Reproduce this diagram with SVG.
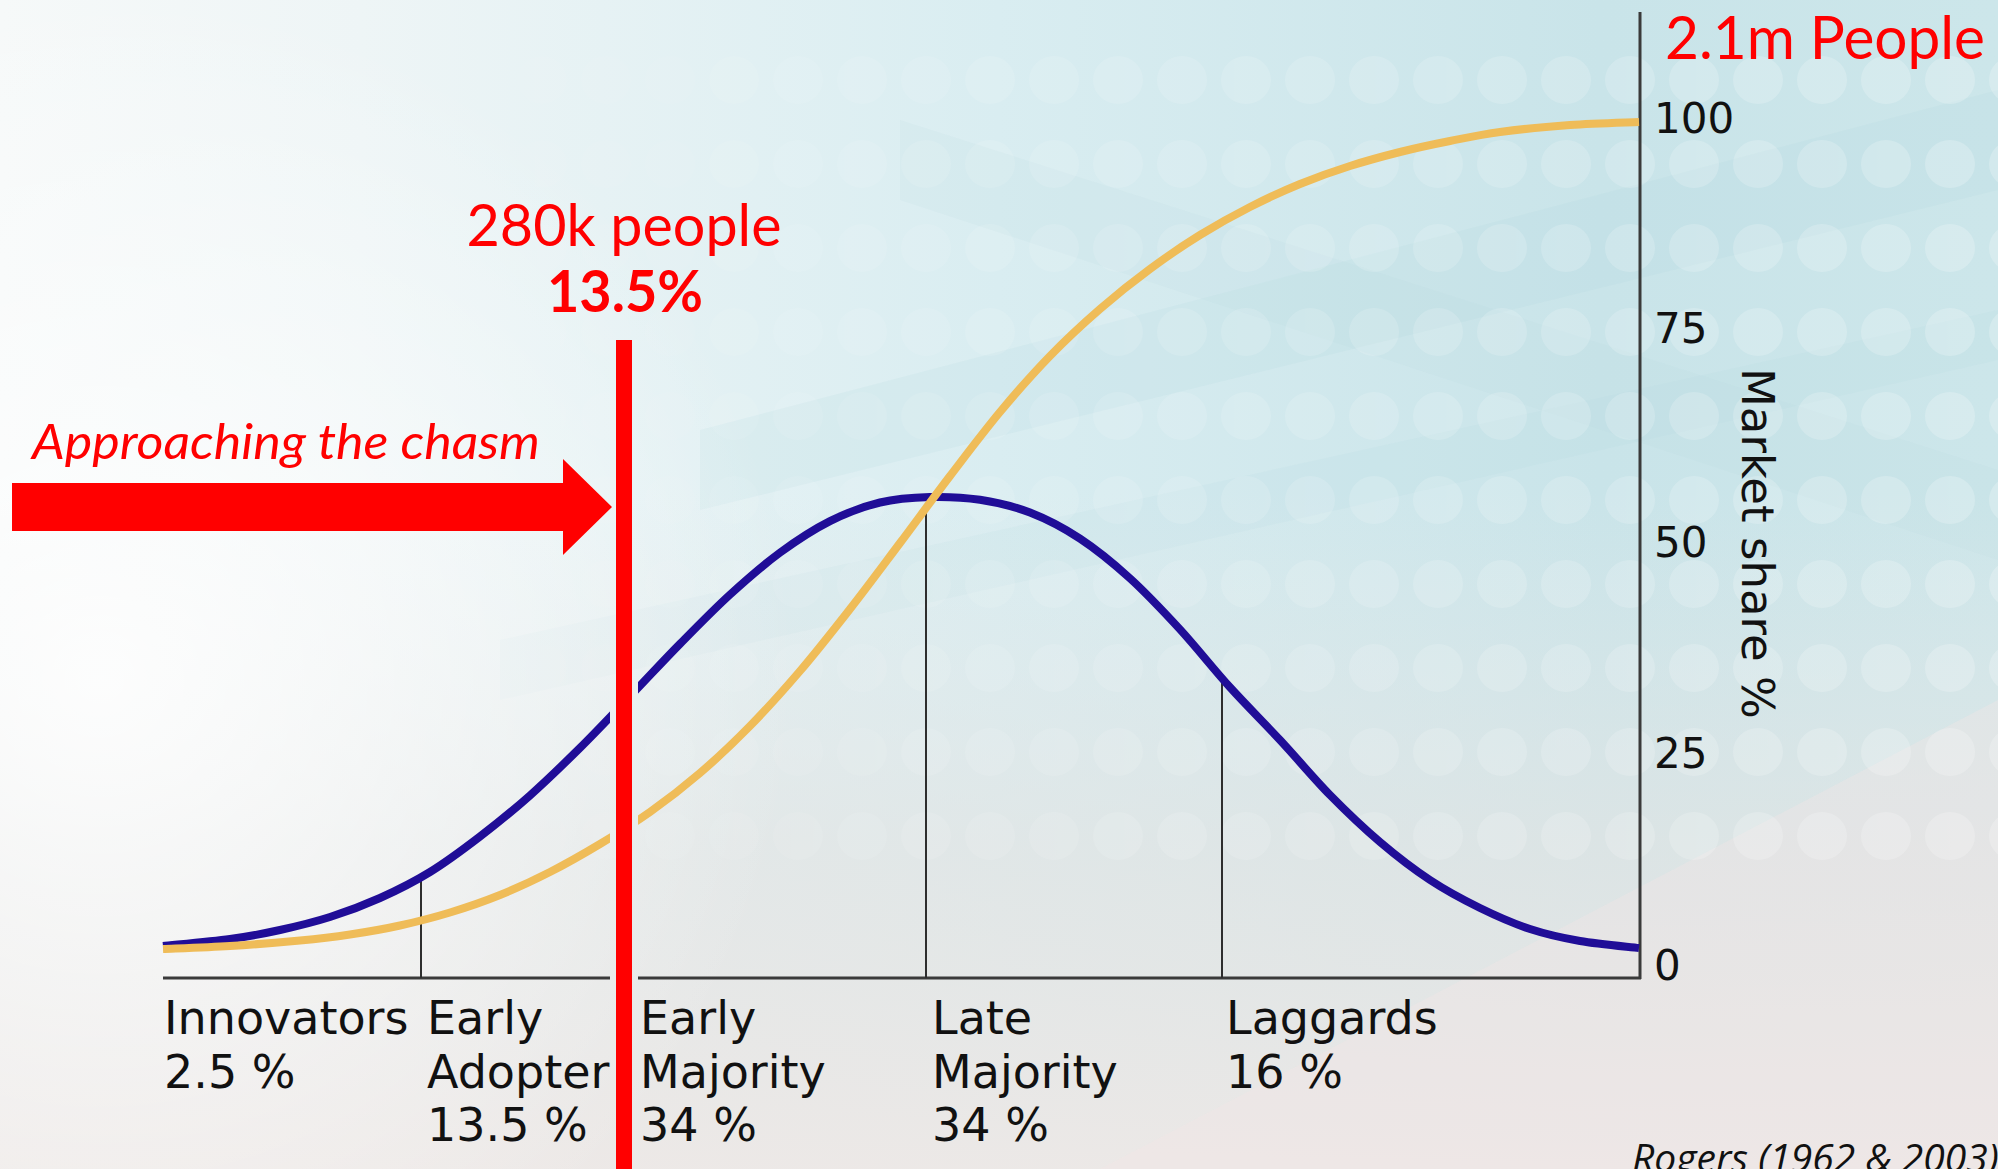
<svg xmlns="http://www.w3.org/2000/svg" width="1998" height="1169" viewBox="0 0 1998 1169">
  <defs>
    <linearGradient id="bgH" x1="0" y1="0" x2="1" y2="0">
      <stop offset="0" stop-color="#f6f9f9"/>
      <stop offset="0.18" stop-color="#eef5f6"/>
      <stop offset="0.5" stop-color="#d9edf1"/>
      <stop offset="0.8" stop-color="#c9e4e9"/>
      <stop offset="1" stop-color="#cce6ea"/>
    </linearGradient>
    <linearGradient id="bgV" x1="0" y1="0" x2="0" y2="1">
      <stop offset="0" stop-color="#ffffff" stop-opacity="0"/>
      <stop offset="0.42" stop-color="#e6e8e8" stop-opacity="0"/>
      <stop offset="0.72" stop-color="#e3e4e3" stop-opacity="0.7"/>
      <stop offset="1" stop-color="#ede8e6" stop-opacity="0.95"/>
    </linearGradient>
    <radialGradient id="glow" cx="100" cy="680" r="700" gradientUnits="userSpaceOnUse">
      <stop offset="0" stop-color="#ffffff" stop-opacity="0.85"/>
      <stop offset="0.6" stop-color="#ffffff" stop-opacity="0.35"/>
      <stop offset="1" stop-color="#ffffff" stop-opacity="0"/>
    </radialGradient>
    <linearGradient id="dotFade" x1="0" y1="0" x2="1" y2="0">
      <stop offset="0" stop-color="#fff" stop-opacity="0"/>
      <stop offset="0.2" stop-color="#fff" stop-opacity="0.12"/>
      <stop offset="0.5" stop-color="#fff" stop-opacity="0.5"/>
      <stop offset="1" stop-color="#fff" stop-opacity="1"/>
    </linearGradient>
    <pattern id="dots" width="64" height="84" patternUnits="userSpaceOnUse" patternTransform="translate(-2,38)">
      <ellipse cx="32" cy="42" rx="25" ry="24" fill="#ffffff" fill-opacity="0.22"/>
    </pattern>
    <mask id="dotMask">
      <rect x="0" y="0" width="1998" height="1169" fill="url(#dotFade)"/>
    </mask>
    <mask id="barGap">
      <rect x="0" y="0" width="1998" height="1169" fill="#fff"/>
      <rect x="610" y="340" width="28" height="829" fill="#000"/>
    </mask>
    <style>
      .axis { stroke: #3a3a3a; stroke-width: 3; fill: none; }
      .tick { stroke: #2e2e2e; stroke-width: 2; fill: none; }
      .curve { fill: none; stroke-width: 8; stroke-linecap: butt; stroke-linejoin: round; }
      .lbl { font-family: "DejaVu Sans", sans-serif; font-size: 46px; fill: #111111; }
      .ylbl { font-family: "DejaVu Sans", sans-serif; font-size: 42px; fill: #111111; }
      .red { font-family: Lato, "Open Sans", sans-serif; fill: #ff0000; }
    </style>
  </defs>

  <g id="background">
    <rect x="0" y="0" width="1998" height="1169" fill="url(#bgH)"/>
    <polygon points="700,430 1998,90 1998,190 700,510" fill="#a9d3da" fill-opacity="0.14"/>
    <polygon points="500,640 1998,310 1998,360 500,700" fill="#a9d3da" fill-opacity="0.12"/>
    <polygon points="900,120 1998,470 1998,560 900,200" fill="#b5d9df" fill-opacity="0.12"/>
    <rect x="0" y="0" width="1998" height="1169" fill="url(#bgV)"/>
    <rect x="0" y="0" width="1998" height="1169" fill="url(#glow)"/>
    <polygon points="1100,1169 1998,700 1998,1169" fill="#f3e6e4" fill-opacity="0.35"/>
    <rect x="0" y="40" width="1998" height="820" fill="url(#dots)" mask="url(#dotMask)"/>
  </g>

  <g id="chart" mask="url(#barGap)">
    <g id="axes">
      <line class="axis" x1="163" y1="978" x2="1641" y2="978"/>
      <line class="axis" x1="1640" y1="12" x2="1640" y2="979"/>
      <line class="tick" x1="421" y1="879" x2="421" y2="978"/>
      <line class="tick" x1="926" y1="505" x2="926" y2="978"/>
      <line class="tick" x1="1222" y1="678" x2="1222" y2="978"/>
    </g>
    <path id="bell-curve" class="curve" stroke="#200d97" d="M163,946 C174.2,944.8 210.5,941.7 230,939 C249.5,936.3 263.3,933.7 280,930 C296.7,926.3 313.3,922.3 330,917 C346.7,911.7 363.3,905.5 380,898 C396.7,890.5 413.3,882.3 430,872 C446.7,861.8 463.3,849.3 480,836.5 C496.7,823.7 513.3,810.2 530,795.4 C546.7,780.6 563.3,764.4 580,747.9 C596.7,731.4 613.3,713.6 630,696.3 C646.7,679 663.3,660.8 680,643.9 C696.7,626.9 713.3,609.8 730,594.6 C746.7,579.4 763.3,564.9 780,552.6 C796.7,540.4 813.3,529.5 830,521.1 C846.7,512.8 863.3,506.5 880,502.5 C896.7,498.5 913.3,497.5 930,497 C946.7,496.6 963.3,497.2 980,499.8 C996.7,502.4 1013.3,506.1 1030,512.6 C1046.7,519.1 1063.3,527.7 1080,538.7 C1096.7,549.7 1113.3,563.3 1130,578.4 C1146.7,593.5 1163.3,611.3 1180,629.4 C1196.7,647.6 1213.3,668.9 1230,687.3 C1246.7,705.7 1263.3,722.1 1280,740 C1296.7,757.9 1313.3,778 1330,795 C1346.7,812 1363.3,827.8 1380,842 C1396.7,856.2 1413.3,869 1430,880 C1446.7,891 1463.3,899.8 1480,908 C1496.7,916.2 1513.3,923.5 1530,929 C1546.7,934.5 1561.8,937.8 1580,941 C1598.2,944.2 1629.2,946.8 1639,948"/>
    <path id="s-curve" class="curve" stroke="#efbc58" d="M163,949 C174.2,948.5 207.2,947.4 230,946 C252.8,944.6 280,942.4 300,940.5 C320,938.6 333.3,937 350,934.5 C366.7,932 383.3,929.2 400,925.5 C416.7,921.8 433.3,917.6 450,912.5 C466.7,907.4 483.3,901.75 500,895 C516.7,888.25 533.3,880.5 550,872 C566.7,863.5 583.3,854 600,844 C616.7,834 633.3,823.8 650,812 C666.7,800.2 683.3,787.3 700,773 C716.7,758.7 733.3,743 750,726 C766.7,709 783.3,690.5 800,671 C816.7,651.5 833.3,630.3 850,609 C866.7,587.7 883.3,565.2 900,543 C916.7,520.8 933.3,497.8 950,476 C966.7,454.2 983.3,432 1000,412 C1016.7,392 1033.3,373.2 1050,356 C1066.7,338.8 1083.3,323.5 1100,309 C1116.7,294.5 1133.3,281.3 1150,269 C1166.7,256.7 1183.3,245.3 1200,235 C1216.7,224.7 1233.3,215.5 1250,207 C1266.7,198.5 1283.3,190.8 1300,184 C1316.7,177.2 1333.3,171.3 1350,166 C1366.7,160.7 1383.3,156.2 1400,152 C1416.7,147.8 1433.3,144.3 1450,141 C1466.7,137.7 1480,134.7 1500,132 C1520,129.3 1546.8,126.7 1570,125 C1593.2,123.3 1627.5,122.5 1639,122"/>
  </g>

  <g id="y-labels">
    <text class="ylbl" x="1654" y="133">100</text>
    <text class="ylbl" x="1654" y="343">75</text>
    <text class="ylbl" x="1654" y="557">50</text>
    <text class="ylbl" x="1654" y="768">25</text>
    <text class="ylbl" x="1654" y="980">0</text>
    <text class="ylbl" style="font-size:45px" transform="translate(1742,368) rotate(90)" x="0" y="0">Market share %</text>
  </g>

  <g id="innovators">
    <text class="lbl" x="164" y="1034">Innovators</text>
    <text class="lbl" x="164" y="1088">2.5 %</text>
  </g>
  <g id="early-adopter">
    <text class="lbl" x="427" y="1034">Early</text>
    <text class="lbl" x="427" y="1088">Adopter</text>
    <text class="lbl" x="427" y="1141">13.5 %</text>
  </g>
  <g id="early-majority">
    <text class="lbl" x="640" y="1034">Early</text>
    <text class="lbl" x="640" y="1088">Majority</text>
    <text class="lbl" x="640" y="1141">34 %</text>
  </g>
  <g id="late-majority">
    <text class="lbl" x="932" y="1034">Late</text>
    <text class="lbl" x="932" y="1088">Majority</text>
    <text class="lbl" x="932" y="1141">34 %</text>
  </g>
  <g id="laggards">
    <text class="lbl" x="1226" y="1034">Laggards</text>
    <text class="lbl" x="1226" y="1088">16 %</text>
  </g>

  <g id="chasm-marker">
    <rect x="616" y="340" width="16" height="829" fill="#ff0000"/>
    <polygon points="12,483 563,483 563,459 612,507 563,555 563,531 12,531" fill="#ff0000"/>
    <text class="red" x="32" y="459" font-size="48" font-style="italic" textLength="508" lengthAdjust="spacingAndGlyphs">Approaching the chasm</text>
    <text class="red" x="624" y="246" font-size="58" text-anchor="middle" textLength="315" lengthAdjust="spacingAndGlyphs">280k people</text>
    <text class="red" x="625" y="312" font-size="58" font-weight="bold" text-anchor="middle" textLength="156" lengthAdjust="spacingAndGlyphs">13.5%</text>
  </g>

  <g id="total-label">
    <text class="red" x="1665" y="59" font-size="60" textLength="320" lengthAdjust="spacingAndGlyphs">2.1m People</text>
  </g>

  <g id="citation">
    <text x="1632" y="1172" font-family="'Open Sans', sans-serif" font-style="italic" font-size="39" fill="#111111">Rogers (1962 &amp; 2003)</text>
  </g>
</svg>
